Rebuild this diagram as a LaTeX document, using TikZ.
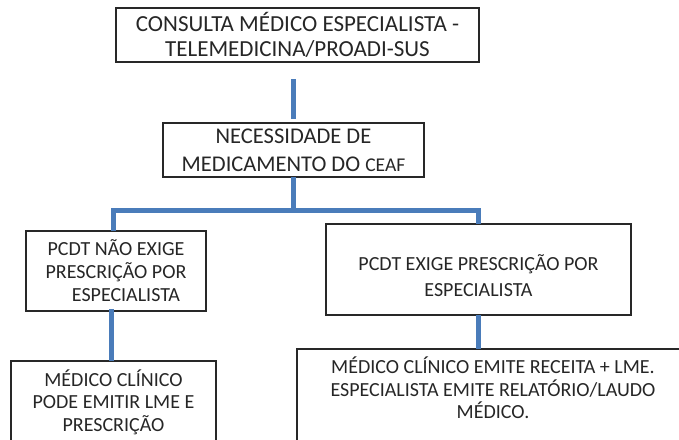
\documentclass[tikz,border=0pt]{standalone}
\usepackage{fontspec}
\setmainfont{Carlito}
\usepackage{tikz}
\usetikzlibrary{calc, positioning}

\definecolor{linkblue}{RGB}{74,124,186}
\definecolor{boxline}{RGB}{40,40,40}

\begin{document}
\begin{tikzpicture}[x=1pt, y=1pt, outer sep = 0pt]

\tikzstyle{box}=[rectangle,draw=boxline,line width=1.2pt,anchor=north west,align=center,inner sep=0pt,text=black!85]
\tikzstyle{bigbox}=[box,font={\fontsize{23}{25}\selectfont}]
\tikzstyle{smallbox}=[box,font={\fontsize{20}{22.5}\selectfont}]
\tikzstyle{link}=[draw=linkblue,line width=5pt]

\useasboundingbox (0,0) rectangle (679,-439);

\node[bigbox,minimum width=363pt,minimum height=54pt] (consult) at (116,-8) {CONSULTA MÉDICO ESPECIALISTA -\\TELEMEDICINA/PROADI-SUS};
\node[bigbox,font={\fontsize{22.5}{28}\selectfont},minimum width=261pt,minimum height=54pt] (need) at (163,-123) {NECESSIDADE DE\\MEDICAMENTO DO {\fontsize{19.5}{28}\selectfont CEAF}};
\node[smallbox,font={\fontsize{20}{23}\selectfont},minimum width=180pt,minimum height=80pt] (noexige) at (26,-231) {PCDT NÃO EXIGE\\PRESCRIÇÃO POR\\\hspace*{1em}ESPECIALISTA};
\node[smallbox,font={\fontsize{20}{26}\selectfont},minimum width=305pt,minimum height=91pt] (exige) at (326,-224) {\rule{0pt}{28pt}PCDT EXIGE PRESCRIÇÃO POR\\ESPECIALISTA};
\node[smallbox,minimum width=205pt,minimum height=82pt] (clinico) at (11,-361) {MÉDICO CLÍNICO\\PODE EMITIR LME E\\PRESCRIÇÃO\rule[-2pt]{0pt}{2pt}};
\node[smallbox,minimum width=392pt,minimum height=100pt] (receita) at (297,-349) {MÉDICO CLÍNICO EMITE RECEITA + LME.\\ESPECIALISTA EMITE RELATÓRIO/LAUDO\\MÉDICO.\rule[-22pt]{0pt}{22pt}};

% connectors
\draw[link,shorten <=17pt,shorten >=4pt] (need.north |- consult.south) -- (need.north);
\draw[link] (need.south) -- ++(0,-33) coordinate (split);
\draw[link] ([xshift=-3pt]noexige.north) |- (split) -| (exige.north);
\draw[link] ([xshift=-2pt]noexige.south) -- ([xshift=-2pt]noexige.south -| clinico.north) |- ([xshift=-2pt]clinico.north);
\draw[link] (exige.south) -- (exige.south |- receita.north);
\end{tikzpicture}
\end{document}
